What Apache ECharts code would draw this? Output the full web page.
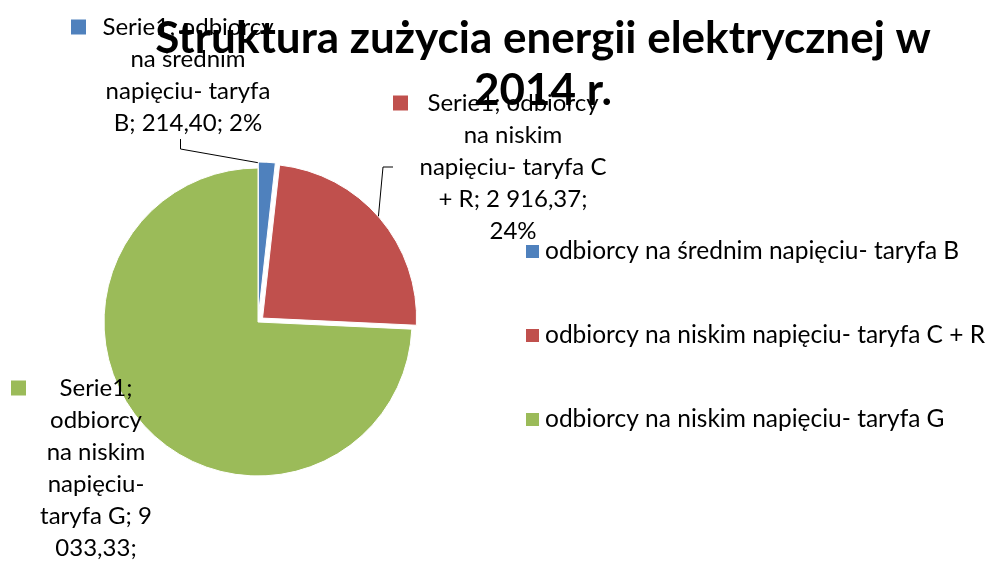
<!DOCTYPE html>
<html>
<head>
<meta charset="utf-8">
<script src="https://cdn.jsdelivr.net/npm/echarts@6/dist/echarts.min.js"></script>
<style>
  html, body { margin: 0; padding: 0; background: #fff; }
  #chart { width: 986px; height: 561px; }
</style>
</head>
<body>
<div id="chart"></div>
<script>
var titleText = "Struktura zużycia energii elektrycznej w\n2014 r.";
var seriesName = "Serie1";
var categories = [
  "odbiorcy na średnim napięciu- taryfa B",
  "odbiorcy na niskim napięciu- taryfa C + R",
  "odbiorcy na niskim napięciu- taryfa G"
];
var values = [214.40, 2916.37, 9033.33];
var colors = ["#4F81BD", "#C0504D", "#9BBB59"];

var FONT = "Lato";
var LABEL_SIZE = 24;

// label boxes: left of colour key, text column centre, top, wrap width
var labelBox = [
  { x: 71, cx: 188, y: 11, wrap: 190 },
  { x: 393, cx: 513, y: 87, wrap: 200 },
  { x: 11, cx: 96, y: 372, wrap: 120 }
];

var total = values.reduce(function (a, b) { return a + b; }, 0);

function fmtNum(v) {
  var parts = v.toFixed(2).split(".");
  parts[0] = parts[0].replace(/\B(?=(\d{3})+(?!\d))/g, " ");
  return parts.join(",");
}

var ctx = document.createElement("canvas").getContext("2d");
ctx.font = LABEL_SIZE + "px " + FONT;
function wrap(text, maxW) {
  var words = text.split(" ");
  var lines = [];
  var cur = "";
  words.forEach(function (w) {
    var test = cur ? cur + " " + w : w;
    if (cur && ctx.measureText(test).width > maxW) {
      lines.push(cur);
      cur = w;
    } else {
      cur = test;
    }
  });
  if (cur) lines.push(cur);
  return lines;
}

var myChart = echarts.init(document.getElementById("chart"));

// slices (first two pulled out a little)
var sliceData = [];
// same values again, invisible, only to carry the data labels
var labelData = [];
for (var i = 0; i < categories.length; i++) {
  sliceData.push({
    name: categories[i],
    value: values[i],
    selected: i < 2,
    itemStyle: { color: colors[i] }
  });
  labelData.push({
    name: categories[i],
    value: values[i],
    itemStyle: { color: "rgba(0,0,0,0)" },
    labelLine: { show: i < 2 }
  });
}

var option = {
  animation: false,
  color: colors,
  title: {
    text: titleText,
    left: 538,
    top: 8,
    textAlign: "center",
    textStyle: {
      fontFamily: FONT,
      fontWeight: "bold",
      fontSize: 44,
      lineHeight: 52,
      color: "#000"
    }
  },
  legend: {
    orient: "vertical",
    left: 524,
    top: 239,
    padding: 0,
    icon: "rect",
    itemWidth: 15,
    itemHeight: 15,
    itemGap: 59,
    data: categories,
    textStyle: {
      fontFamily: FONT,
      fontSize: 24.5,
      lineHeight: 24,
      color: "#000"
    }
  },
  series: [{
    name: seriesName,
    type: "pie",
    center: [258, 322],
    radius: 154,
    startAngle: 90,
    clockwise: true,
    selectedMode: "multiple",
    selectedOffset: 6,
    itemStyle: { borderColor: "#fff", borderWidth: 1 },
    emphasis: { disabled: true },
    label: { show: false },
    labelLine: { show: false },
    data: sliceData
  }, {
    name: seriesName,
    type: "pie",
    center: [258, 322],
    radius: 158,
    startAngle: 90,
    clockwise: true,
    silent: true,
    selectedMode: false,
    emphasis: { disabled: true },
    data: labelData,
    label: {
      show: true,
      color: "#000",
      fontFamily: FONT,
      fontSize: LABEL_SIZE,
      lineHeight: 32,
      formatter: function (p) {
        var pct = Math.round(p.value / total * 100);
        var txt = seriesName + "; " + p.name + "; " + fmtNum(p.value) + "; " + pct + "%";
        var lines = wrap(txt, labelBox[p.dataIndex].wrap);
        return lines.map(function (l, k) {
          return (k === 0 ? "{sq" + p.dataIndex + "|}" : "{pad|}") + "{t|" + l + "}";
        }).join("\n");
      },
      rich: {
        sq0: { width: 15, height: 15, backgroundColor: colors[0], align: "left" },
        sq1: { width: 15, height: 15, backgroundColor: colors[1], align: "left" },
        sq2: { width: 15, height: 15, backgroundColor: colors[2], align: "left" },
        pad: { width: 15, height: 15, align: "left" },
        t: { fontFamily: FONT, fontSize: LABEL_SIZE, lineHeight: 32, color: "#000", align: "center" }
      }
    },
    labelLine: {
      show: true,
      length: 12,
      length2: 10,
      lineStyle: { color: "#000", width: 1 }
    },
    labelLayout: function (params) {
      var b = labelBox[params.dataIndex];
      return {
        x: b.x,
        y: b.y,
        width: 2 * (b.cx - b.x) - 15,
        align: "left",
        verticalAlign: "top"
      };
    }
  }]
};

myChart.setOption(option, true);
</script>
</body>
</html>
